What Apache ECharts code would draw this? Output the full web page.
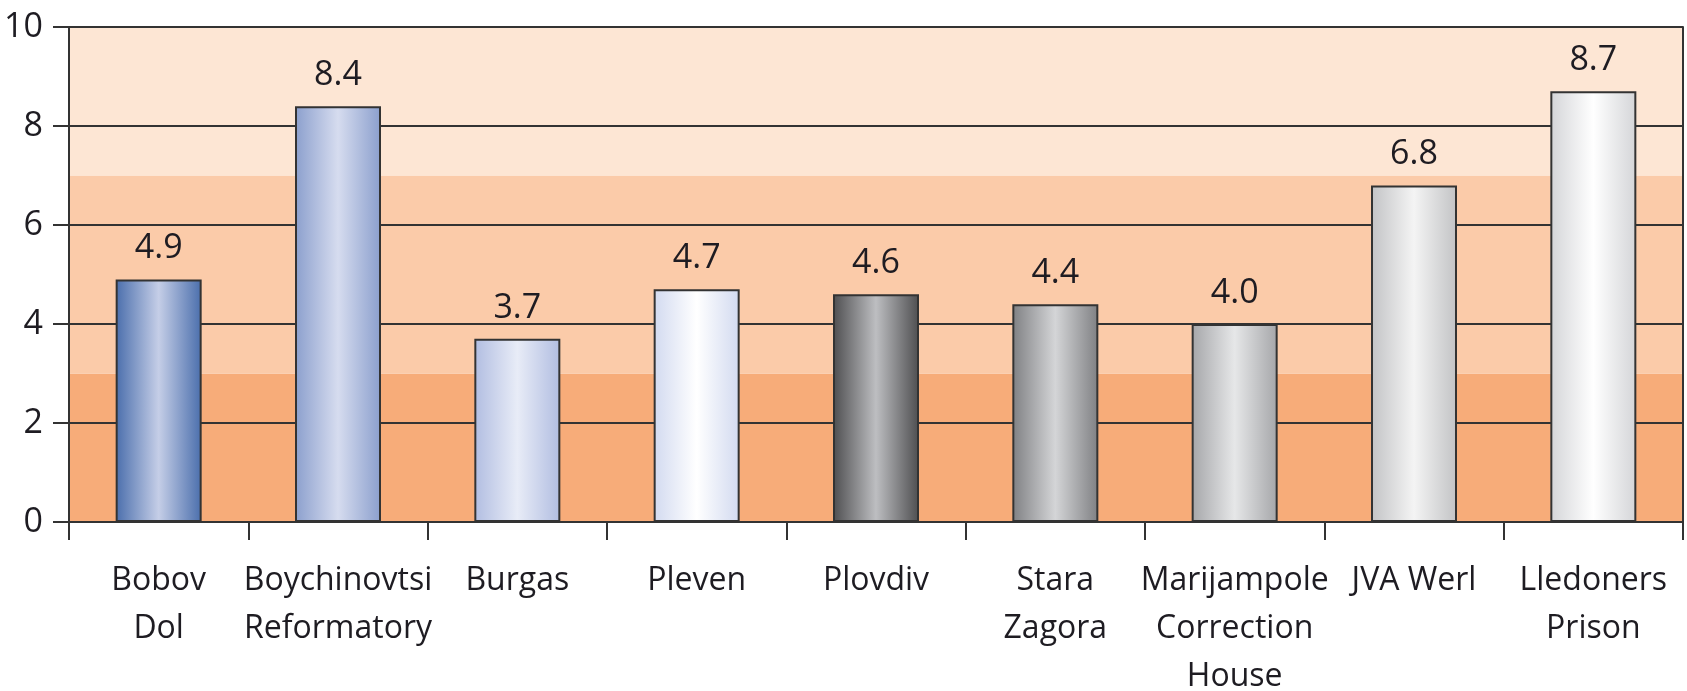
<!DOCTYPE html>
<html>
<head>
<meta charset="utf-8">
<script src="https://cdn.jsdelivr.net/npm/echarts@6/dist/echarts.min.js"></script>
<style>
html,body{margin:0;padding:0;background:#fff;}
#chart{width:1687px;height:691px;}
</style>
</head>
<body>
<div id="chart"></div>
<script>
const categories = ["Bobov\nDol", "Boychinovtsi\nReformatory", "Burgas", "Pleven", "Plovdiv", "Stara\nZagora", "Marijampole\nCorrection\nHouse", "JVA Werl", "Lledoners\nPrison"];
const values = [4.9, 8.4, 3.7, 4.7, 4.6, 4.4, 4.0, 6.8, 8.7];
const yTicks = [0, 2, 4, 6, 8, 10];
const bandBreaks = [0, 3, 7, 10];
const bandColors = ["#F7AC79", "#FBCBA9", "#FDE6D4"];
const barEdge = ["#4A6EAC", "#8B9FCD", "#B1BDE1", "#D2DAF0", "#4E4E50", "#7F8083", "#A5A6A9", "#C2C3C5", "#D4D5D8"];
const barCenter = ["#C5CEE7", "#D6DCEF", "#E8ECF7", "#FFFFFF", "#BDBEC1", "#D4D5D7", "#E6E7E8", "#F4F4F4", "#FFFFFF"];

const textColor = "#1E1C22";
const font = "'Open Sans', sans-serif";

function grad(edge, center) {
  return new echarts.graphic.LinearGradient(0, 0, 1, 0, [
    {offset: 0, color: edge},
    {offset: 0.5, color: center},
    {offset: 1, color: edge}
  ]);
}

const bands = [];
for (let i = 0; i < bandColors.length; i++) {
  bands.push([{yAxis: bandBreaks[i], itemStyle: {color: bandColors[i]}}, {yAxis: bandBreaks[i + 1]}]);
}

const chart = echarts.init(document.getElementById('chart'), null, {renderer: 'canvas'});
chart.setOption({
  animation: false,
  grid: {left: 69, right: 4, top: 27, bottom: 169, containLabel: false, outerBoundsMode: 'none'},
  xAxis: {
    type: 'category',
    data: categories,
    boundaryGap: true,
    z: 1,
    axisLine: {show: true, lineStyle: {color: '#333', width: 2}},
    axisTick: {show: true, length: 18, lineStyle: {color: '#333', width: 2}},
    axisLabel: {
      interval: 0,
      margin: 35,
      color: textColor,
      fontFamily: font,
      fontWeight: 500,
      fontSize: 32,
      lineHeight: 48
    }
  },
  yAxis: [{
    type: 'value',
    min: yTicks[0],
    max: yTicks[yTicks.length - 1],
    interval: 2,
    z: 1,
    axisLine: {show: true, lineStyle: {color: '#333', width: 2}},
    axisTick: {show: true, length: 16, lineStyle: {color: '#333', width: 2}},
    axisLabel: {margin: 26, color: textColor, fontFamily: font, fontWeight: 500, fontSize: 34},
    splitLine: {show: true, lineStyle: {color: '#333', width: 2}}
  }, {
    type: 'value',
    position: 'right',
    min: yTicks[0],
    max: yTicks[yTicks.length - 1],
    interval: 2,
    z: 1,
    axisLine: {show: true, lineStyle: {color: '#333', width: 2}},
    axisTick: {show: false},
    axisLabel: {show: false},
    splitLine: {show: false}
  }],
  series: [{
    type: 'line',
    data: [],
    z: -10,
    silent: true,
    markArea: {silent: true, z: -10, data: bands}
  }, {
    type: 'bar',
    z: 3,
    barWidth: 86,
    data: values.map((v, i) => ({
      value: v,
      itemStyle: {color: grad(barEdge[i], barCenter[i]), borderColor: '#333', borderWidth: 2}
    })),
    label: {
      show: true,
      position: 'top',
      distance: 14,
      color: textColor,
      fontFamily: font,
      fontWeight: 500,
      fontSize: 34,
      formatter: p => p.value.toFixed(1)
    }
  }]
});
</script>
</body>
</html>
